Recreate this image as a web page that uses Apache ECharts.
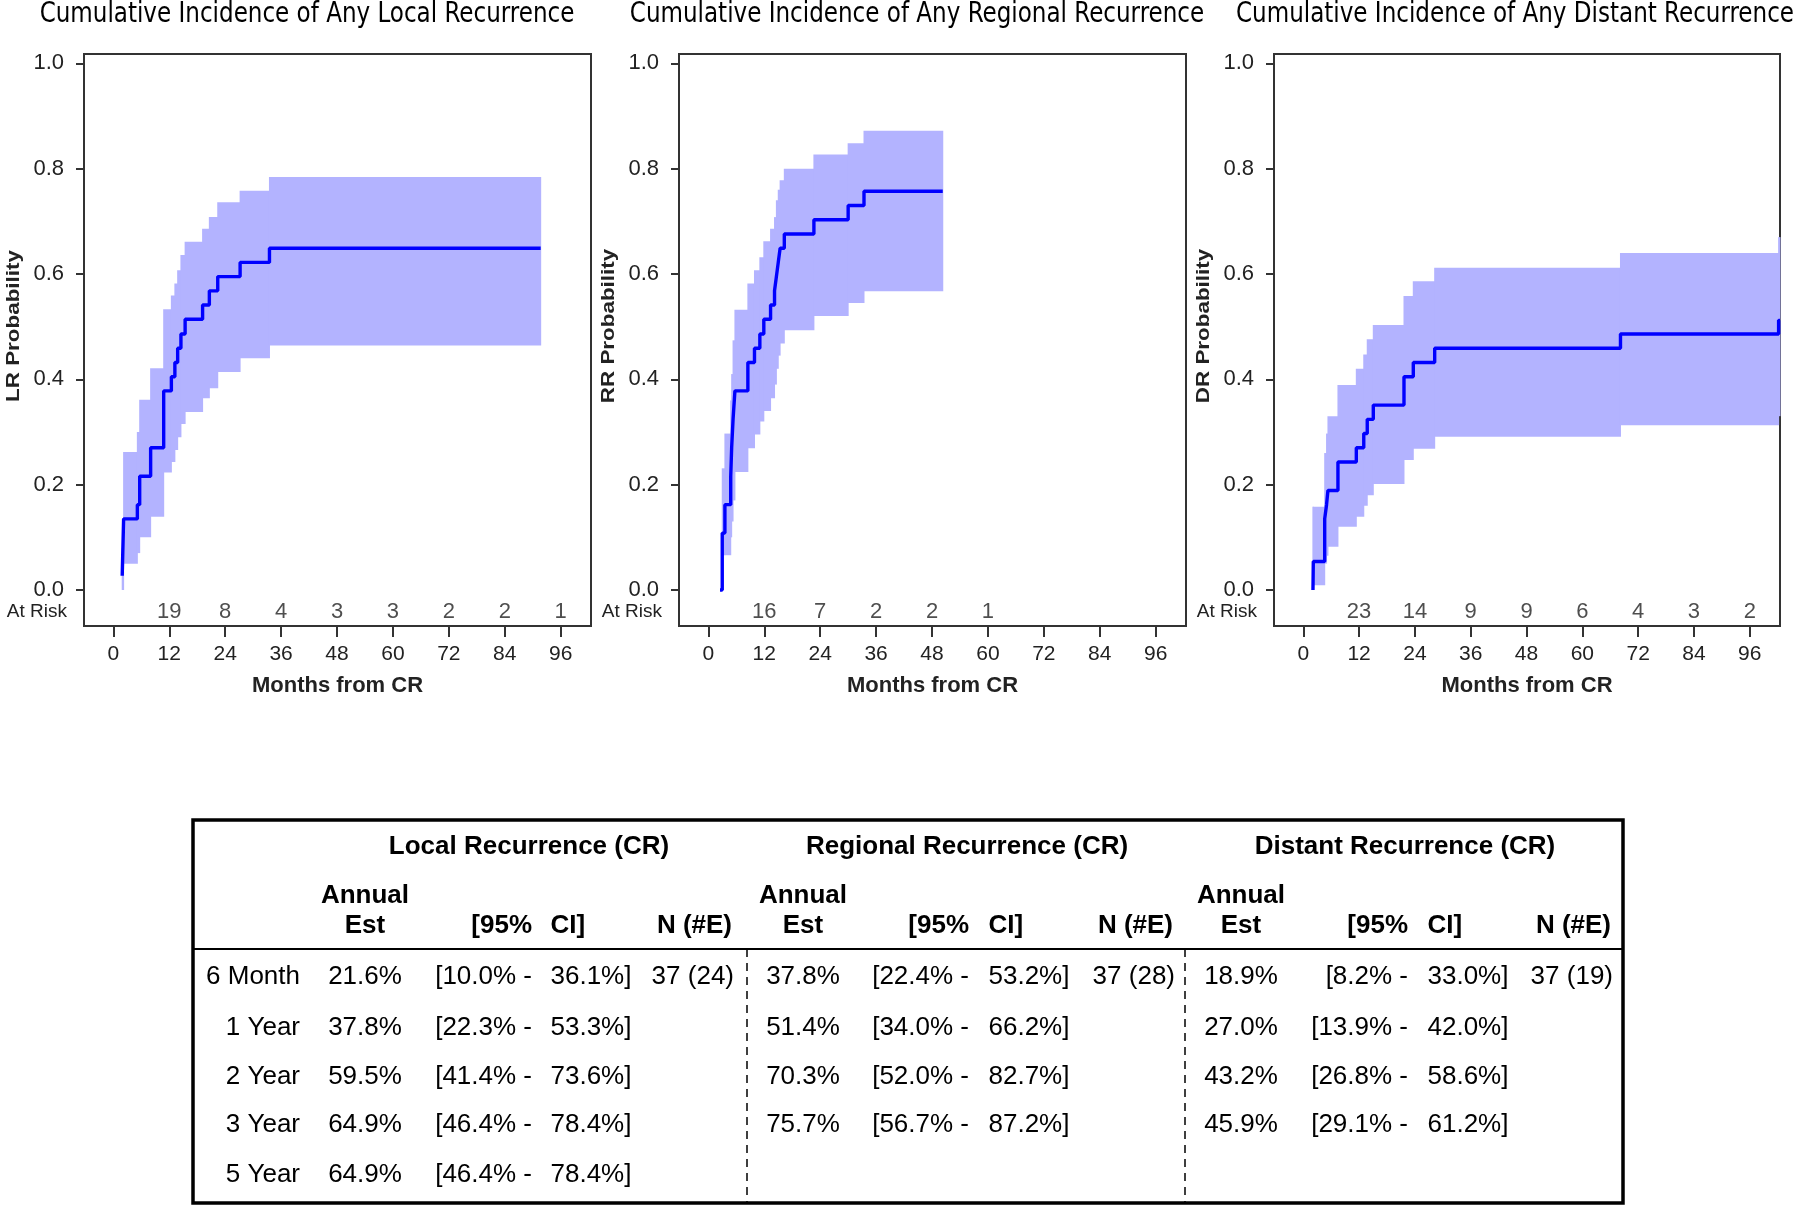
<!DOCTYPE html>
<html><head><meta charset="utf-8">
<script src="https://cdn.jsdelivr.net/npm/echarts@6/dist/echarts.min.js"></script>
<style>html,body{margin:0;padding:0;background:#fff}#c{width:1800px;height:1206px}</style>
</head><body><div id="c"></div>
<script>
// ---------- data ----------
const monthTicks = [0, 12, 24, 36, 48, 60, 72, 84, 96];
const probTicks = [0, 0.2, 0.4, 0.6, 0.8, 1.0];
const panelTitles = ['Cumulative Incidence of Any Local Recurrence', 'Cumulative Incidence of Any Regional Recurrence', 'Cumulative Incidence of Any Distant Recurrence'];
const yNames = ['LR Probability', 'RR Probability', 'DR Probability'];
const xName = 'Months from CR';
const atRiskLabel = 'At Risk';

// Local recurrence
const lrTimes = [1.9, 2.2, 5.15, 5.65, 8.0, 10.8, 12.45, 13.2, 13.8, 14.5, 15.4, 19.15, 20.6, 22.4, 27.2, 33.5, 91.7];
const lrEst   = [0.027, 0.135, 0.162, 0.216, 0.270, 0.378, 0.405, 0.432, 0.459, 0.486, 0.514, 0.541, 0.568, 0.595, 0.622, 0.649, 0.649];
const lrLower = [0.0, 0.05, 0.07, 0.100, 0.139, 0.223, 0.243, 0.266, 0.29, 0.315, 0.338, 0.364, 0.383, 0.414, 0.44, 0.464, 0.464];
const lrUpper = [0.08, 0.262, 0.30, 0.361, 0.421, 0.533, 0.559, 0.582, 0.607, 0.636, 0.661, 0.686, 0.708, 0.736, 0.758, 0.784, 0.784];
const lrRiskMonths = [12, 24, 36, 48, 60, 72, 84, 96];
const lrRisk = [19, 8, 4, 3, 3, 2, 2, 1];

// Regional recurrence
const rrTimes = [2.5, 2.98, 3.55, 4.8, 5.0, 5.3, 5.7, 8.48, 9.9, 11.05, 11.9, 13.35, 14.2, 14.6, 15.0, 15.4, 16.3, 22.65, 30.0, 33.4, 50.3];
const rrEst   = [0.0, 0.108, 0.162, 0.216, 0.270, 0.324, 0.378, 0.432, 0.459, 0.486, 0.514, 0.541, 0.568, 0.595, 0.622, 0.649, 0.676, 0.703, 0.730, 0.757, 0.757];
const rrLower = [0.0, 0.066, 0.066, 0.10, 0.13, 0.17, 0.224, 0.269, 0.295, 0.32, 0.340, 0.364, 0.39, 0.42, 0.445, 0.468, 0.493, 0.520, 0.545, 0.567, 0.567];
const rrUpper = [0.0, 0.231, 0.297, 0.36, 0.41, 0.474, 0.532, 0.582, 0.607, 0.632, 0.662, 0.686, 0.708, 0.74, 0.76, 0.778, 0.800, 0.827, 0.848, 0.872, 0.872];
const rrRiskMonths = [12, 24, 36, 48, 60];
const rrRisk = [16, 7, 2, 2, 1];

// Distant recurrence
const drTimes = [2.08, 2.15, 4.6, 5.0, 5.3, 7.45, 11.4, 13.0, 13.75, 15.05, 21.65, 23.65, 28.25, 68.2, 102.2, 102.5];
const drEst   = [0.0, 0.054, 0.135, 0.162, 0.189, 0.243, 0.270, 0.297, 0.324, 0.351, 0.405, 0.432, 0.459, 0.486, 0.512, 0.512];
const drLower = [0.009, 0.009, 0.05, 0.065, 0.082, 0.12, 0.139, 0.16, 0.18, 0.201, 0.247, 0.268, 0.291, 0.313, 0.33, 0.33];
const drUpper = [0.158, 0.158, 0.26, 0.297, 0.330, 0.389, 0.420, 0.447, 0.476, 0.503, 0.558, 0.586, 0.612, 0.640, 0.67, 0.67];
const drRiskMonths = [12, 24, 36, 48, 60, 72, 84, 96];
const drRisk = [23, 14, 9, 9, 6, 4, 3, 2];

// Table
const groupTitles = ['Local Recurrence (CR)', 'Regional Recurrence (CR)', 'Distant Recurrence (CR)'];
const rowLabels = ['6 Month', '1 Year', '2 Year', '3 Year', '5 Year'];
const localEst = [21.6, 37.8, 59.5, 64.9, 64.9];
const localLo  = [10.0, 22.3, 41.4, 46.4, 46.4];
const localHi  = [36.1, 53.3, 73.6, 78.4, 78.4];
const regEst = [37.8, 51.4, 70.3, 75.7];
const regLo  = [22.4, 34.0, 52.0, 56.7];
const regHi  = [53.2, 66.2, 82.7, 87.2];
const disEst = [18.9, 27.0, 43.2, 45.9];
const disLo  = [8.2, 13.9, 26.8, 29.1];
const disHi  = [33.0, 42.0, 58.6, 61.2];
const nTotal = [37, 37, 37];
const nEvents = [24, 28, 19];

// ---------- layout ----------
const FONT = '"Liberation Sans", Arial, sans-serif';
const TITLE_FONT = '"DejaVu Sans Condensed", "Liberation Sans", sans-serif';
const gridsPos = [
  {left: 84, top: 54, width: 507, height: 572},
  {left: 679, top: 54, width: 507, height: 572},
  {left: 1274, top: 54, width: 506, height: 572}
];
const panels = [
  {t: lrTimes, e: lrEst, lo: lrLower, hi: lrUpper, rm: lrRiskMonths, r: lrRisk},
  {t: rrTimes, e: rrEst, lo: rrLower, hi: rrUpper, rm: rrRiskMonths, r: rrRisk},
  {t: drTimes, e: drEst, lo: drLower, hi: drUpper, rm: drRiskMonths, r: drRisk}
];
const Y_MIN = -0.0684, Y_MAX = 1.0177, X_MIN = -6.3, X_MAX = 102.5;
const RISK_Y = -0.042;

const grid = [], xAxis = [], yAxis = [], series = [], graphic = [];
panels.forEach((p, i) => {
  grid.push(Object.assign({show: true, borderColor: '#333', borderWidth: 2, backgroundColor: 'transparent'}, gridsPos[i]));
  xAxis.push({
    type: 'value', gridIndex: i, min: X_MIN, max: X_MAX, position: 'bottom',
    axisLine: {show: false, onZero: false},
    axisTick: {show: true, inside: false, customValues: monthTicks, length: 11, lineStyle: {color: '#333', width: 2}},
    axisLabel: {customValues: monthTicks, fontSize: 21, color: '#222', margin: 18, fontFamily: FONT},
    splitLine: {show: false},
    name: xName, nameLocation: 'middle', nameGap: 49,
    nameTextStyle: {fontSize: 22, fontWeight: 'bold', color: '#222', fontFamily: FONT}
  });
  yAxis.push({
    type: 'value', gridIndex: i, min: Y_MIN, max: Y_MAX, position: 'left',
    axisLine: {show: false, onZero: false},
    axisTick: {show: true, inside: false, customValues: probTicks, length: 8, lineStyle: {color: '#333', width: 2}},
    axisLabel: {customValues: probTicks, fontSize: 22, color: '#222', margin: 20, fontFamily: FONT,
      formatter: v => Number(v).toFixed(1)},
    splitLine: {show: false}
  });
  const bandData = p.t.slice(0, -1).map((t, k) => [t, p.t[k + 1], p.lo[k], p.hi[k]]);
  series.push({
    type: 'custom', xAxisIndex: i, yAxisIndex: i, z: 1, silent: true,
    data: bandData, encode: {x: [0, 1], y: [2, 3]},
    renderItem: (params, api) => {
      const a = api.coord([api.value(0), api.value(2)]);
      const b = api.coord([api.value(1), api.value(3)]);
      return {type: 'rect', shape: {x: a[0] - 0.5, y: b[1], width: b[0] - a[0] + 1, height: a[1] - b[1]},
        style: {fill: '#b3b3ff'}};
    }
  });
  series.push({
    type: 'line', xAxisIndex: i, yAxisIndex: i, z: 3, step: 'end', showSymbol: false, silent: true,
    data: p.t.map((t, k) => [t, p.e[k]]),
    lineStyle: {color: '#0000ff', width: 3.4}
  });
  series.push({
    type: 'scatter', xAxisIndex: i, yAxisIndex: i, symbolSize: 0, silent: true, z: 4,
    data: p.rm.map((m, k) => [m, RISK_Y, p.r[k]]),
    label: {show: true, position: 'inside', formatter: d => String(d.value[2]), fontSize: 22, color: '#222', fontFamily: FONT}
  });
  const g = gridsPos[i];
  graphic.push({type: 'text', x: g.left - 70, y: 326, rotation: Math.PI / 2, scaleX: 1.18,
    style: {text: yNames[i], font: 'bold 19px ' + FONT, fill: '#222', align: 'center', verticalAlign: 'middle', textAlign: 'center', textVerticalAlign: 'middle'}});
  graphic.push({type: 'text', x: g.left - 17, y: 612,
    style: {text: atRiskLabel, font: '19px ' + FONT, fill: '#222', align: 'right', verticalAlign: 'middle', textAlign: 'right', textVerticalAlign: 'middle'}});
});
const titleX = [307, 917, 1515];
panelTitles.forEach((t, i) => {
  graphic.push({type: 'text', x: titleX[i], y: 15, scaleX: 0.915,
    style: {text: t, font: '28px ' + TITLE_FONT, fill: '#000', align: 'center', verticalAlign: 'middle', textAlign: 'center', textVerticalAlign: 'middle'}});
});

// ---------- table ----------
function txt(s, x, y, opt) {
  opt = opt || {};
  const al = opt.align || 'left';
  graphic.push({type: 'text', x: x, y: y, z: 10,
    style: {text: s, font: (opt.bold ? 'bold ' : '') + '26px ' + FONT, fill: '#000', align: al, verticalAlign: 'middle', textAlign: al, textVerticalAlign: 'middle'}});
}
const T = {left: 193, top: 820, right: 1623, bottom: 1203, headLine: 949};
graphic.push({type: 'rect', z: 9, shape: {x: T.left, y: T.top, width: T.right - T.left, height: T.bottom - T.top},
  style: {fill: 'none', stroke: '#000', lineWidth: 3.5}});
graphic.push({type: 'line', z: 9, shape: {x1: T.left, y1: T.headLine, x2: T.right, y2: T.headLine}, style: {stroke: '#000', lineWidth: 2}});
[747, 1185].forEach(x => graphic.push({type: 'line', z: 9, shape: {x1: x, y1: T.headLine, x2: x, y2: T.bottom},
  style: {stroke: '#000', lineWidth: 1.5, lineDash: [8, 6]}}));

const estC = [365, 803, 1241], ciR = [532, 969, 1408], ciL = [550.5, 988.5, 1427.5], nR = [732, 1173, 1611], gC = [529, 967, 1405];
const rowY = [977, 1028, 1077, 1125, 1175];
const groups = [[localEst, localLo, localHi], [regEst, regLo, regHi], [disEst, disLo, disHi]];
groupTitles.forEach((gt, g) => {
  txt(gt, gC[g], 847, {bold: true, align: 'center'});
  txt('Annual', estC[g], 896, {bold: true, align: 'center'});
  txt('Est', estC[g], 926, {bold: true, align: 'center'});
  txt('[95%', ciR[g], 926, {bold: true, align: 'right'});
  txt('CI]', ciL[g], 926, {bold: true, align: 'left'});
  txt('N (#E)', nR[g], 926, {bold: true, align: 'right'});
  const [est, lo, hi] = groups[g];
  est.forEach((v, r) => {
    txt(v.toFixed(1) + '%', estC[g], rowY[r], {align: 'center'});
    txt('[' + lo[r].toFixed(1) + '% -', ciR[g], rowY[r], {align: 'right'});
    txt(hi[r].toFixed(1) + '%]', ciL[g], rowY[r], {align: 'left'});
  });
  txt(nTotal[g] + ' (' + nEvents[g] + ')', nR[g] + 2, rowY[0], {align: 'right'});
});
rowLabels.forEach((s, r) => txt(s, 300, rowY[r], {align: 'right'}));

const chart = echarts.init(document.getElementById('c'), null, {renderer: 'canvas'});
chart.setOption({animation: false, backgroundColor: '#fff', grid, xAxis, yAxis, series, graphic});
</script></body></html>
